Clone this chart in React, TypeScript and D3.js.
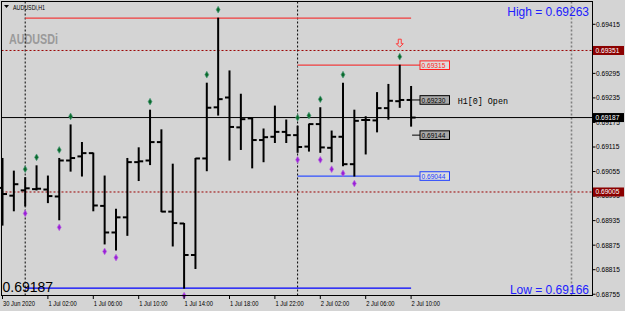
import React from "react";
import * as d3 from "d3";

// ---- data (AUDUSDi, H1) ----
const timeLabels = ["30 Jun 2020", "1 Jul 02:00", "1 Jul 06:00", "1 Jul 10:00", "1 Jul 14:00", "1 Jul 18:00", "1 Jul 22:00", "2 Jul 02:00", "2 Jul 06:00", "2 Jul 10:00"];
const opens = [0.69015, 0.68996, 0.69009, 0.69012, 0.69011, 0.68994, 0.69082, 0.69092, 0.69100, 0.68971, 0.68906, 0.68943, 0.69078, 0.69082, 0.69127, 0.68957, 0.68928, 0.68851, 0.69087, 0.69212, 0.69236, 0.69163, 0.69185, 0.69132, 0.69140, 0.69152, 0.69144, 0.69116, 0.69171, 0.69113, 0.69140, 0.69073, 0.69181, 0.69180, 0.69210, 0.69227, 0.69230];
const highs = [0.69087, 0.69056, 0.69040, 0.69069, 0.69044, 0.69087, 0.69169, 0.69126, 0.69100, 0.69044, 0.68963, 0.69087, 0.69113, 0.69205, 0.69157, 0.69073, 0.68928, 0.69087, 0.69271, 0.69430, 0.69301, 0.69244, 0.69185, 0.69159, 0.69215, 0.69181, 0.69166, 0.69171, 0.69211, 0.69154, 0.69271, 0.69205, 0.69189, 0.69248, 0.69268, 0.69315, 0.69263];
const lows = [0.68924, 0.68959, 0.68971, 0.69010, 0.68979, 0.68937, 0.69056, 0.69044, 0.68959, 0.68878, 0.68863, 0.68899, 0.69033, 0.69072, 0.68957, 0.68873, 0.68770, 0.68818, 0.69057, 0.69193, 0.69083, 0.69109, 0.69064, 0.69079, 0.69126, 0.69126, 0.69102, 0.69105, 0.69102, 0.69079, 0.69069, 0.69044, 0.69098, 0.69152, 0.69183, 0.69212, 0.69166];
const closes = [0.69000, 0.69024, 0.69014, 0.69013, 0.68995, 0.69082, 0.69088, 0.69100, 0.68972, 0.68906, 0.68943, 0.69078, 0.69080, 0.69127, 0.68957, 0.68929, 0.68851, 0.69087, 0.69211, 0.69232, 0.69164, 0.69183, 0.69132, 0.69139, 0.69152, 0.69144, 0.69115, 0.69171, 0.69114, 0.69140, 0.69073, 0.69179, 0.69181, 0.69210, 0.69228, 0.69230, 0.69187];
const upFractals = [2, 3, 5, 6, 13, 18, 19, 26, 27, 28, 30, 35];
const downFractals = [2, 5, 9, 10, 16, 26, 28, 29, 30, 31];
const priceTicks = [0.68755, 0.68815, 0.68875, 0.68935, 0.68995, 0.69055, 0.69115, 0.69175, 0.69235, 0.69295, 0.69355, 0.69415];
const separatorBars = [2, 26];
const prevDayHigh = 0.6943;
const prevDayLow = 0.6877;
const todayHigh = 0.69315;
const todayLow = 0.69044;
const dayOpen = 0.69144;
const levelUpper = 0.69351;
const levelLower = 0.69005;
const bid = 0.69187;
const symbolName = "AUDUSDi";
const periodName = "H1";

export default function App() {
  const W = 625, H = 311;
  const left = 1.5, right = 592.5, top = 1.5, bottom = 295.5;
  const x = d3.scaleLinear().domain([0, 36]).range([2.5, 411.1]);
  const y = d3.scaleLinear().domain([0.69415, 0.68755]).range([24.3, 294.24]);
  const n = opens.length;
  const last = n - 1;
  const font = "'Liberation Sans', Arial, sans-serif";
  const fmt = (v: number) => v.toFixed(5);
  const bars = d3.range(n);

  const diamond = d3.symbol().type(d3.symbolDiamond).size(13);
  const boxedLevels = [levelUpper, levelLower, bid];
  // tick labels fully covered by an axis box are not drawn
  const hidden = (v: number) => boxedLevels.some((b) => Math.abs(y(b) - y(v)) < 2.5);

  const lastX = x(last);
  const boxX = 420;

  const box = (v: number, stroke: string, fill: string, color: string, key: string) => (
    <g key={key}>
      <rect x={boxX} y={y(v) - 4.3} width={29.5} height={8.6} fill={fill} stroke={stroke} strokeWidth={1} />
      <text x={boxX + 1.5} y={y(v) + 2.6} fontSize={6.6} fontFamily={font} fill={color}>{fmt(v)}</text>
    </g>
  );

  const axisBox = (v: number, fill: string, key: string) => (
    <g key={key}>
      <rect x={593} y={y(v) - 4.5} width={31} height={9} fill={fill} />
      <text x={595.5} y={y(v) + 2.5} fontSize={6.6} fontFamily={font} fill="#ffffff">{fmt(v)}</text>
    </g>
  );

  return (
    <svg width={W} height={H} style={{ position: "fixed", left: 0, top: 0 }} xmlns="http://www.w3.org/2000/svg">
      <rect x={0} y={0} width={W} height={H} fill="#d4d4d4" />

      {/* watermark */}
      <text x={9} y={43.5} fontSize={15} fontWeight="bold" fontFamily={font} fill="#9a9a9a" textLength={49} lengthAdjust="spacingAndGlyphs">{symbolName}</text>

      {/* period separators */}
      {separatorBars.map((b) => (
        <line key={"sep" + b} x1={x(b)} x2={x(b)} y1={top} y2={bottom} stroke="#000" strokeWidth={1} strokeDasharray="2,2" />
      ))}
      {/* grey vertical */}
      <line x1={571.5} x2={571.5} y1={top} y2={bottom} stroke="#808080" strokeWidth={1.6} strokeDasharray="2,2" />

      {/* dotted levels */}
      {[levelUpper, levelLower].map((v) => (
        <line key={"lv" + v} x1={left} x2={right} y1={y(v)} y2={y(v)} stroke="#9b0000" strokeWidth={1} strokeDasharray="2,2" />
      ))}

      {/* previous day high / low */}
      <line x1={x(2)} x2={lastX} y1={y(prevDayHigh)} y2={y(prevDayHigh)} stroke="#f03c3c" strokeWidth={1.2} />
      <line x1={x(2)} x2={lastX} y1={y(prevDayLow)} y2={y(prevDayLow)} stroke="#0000ff" strokeWidth={1.2} />

      {/* today high / low */}
      <line x1={x(26)} x2={boxX} y1={y(todayHigh) + 1} y2={y(todayHigh) + 1} stroke="#bfe3e8" strokeWidth={1} />
      <line x1={x(26)} x2={boxX} y1={y(todayHigh)} y2={y(todayHigh)} stroke="#f03c3c" strokeWidth={1.2} />
      <line x1={x(26)} x2={boxX} y1={y(todayLow)} y2={y(todayLow)} stroke="#3050ff" strokeWidth={1.2} />

      {/* bid line */}
      <line x1={left} x2={right} y1={y(bid)} y2={y(bid)} stroke="#000" strokeWidth={1} />

      {/* bars */}
      {bars.map((i) => {
        const cx = x(i);
        return (
          <g key={"b" + i} stroke="#000" strokeWidth={2}>
            <line x1={cx} x2={cx} y1={y(highs[i]) - 0.5} y2={y(lows[i]) + 0.5} />
            <line x1={cx - 4.5} x2={cx} y1={y(opens[i])} y2={y(opens[i])} />
            <line x1={cx} x2={cx + 4.5} y1={y(closes[i])} y2={y(closes[i])} />
          </g>
        );
      })}

      {/* fractal markers */}
      {upFractals.map((i) => (
        <path key={"u" + i} d={diamond() as string} transform={`translate(${x(i)},${y(highs[i]) - 8.5})`} fill="#0a6a2a" stroke="#4a9a7a" strokeWidth={0.7} />
      ))}
      {downFractals.map((i) => (
        <path key={"d" + i} d={diamond() as string} transform={`translate(${x(i)},${y(lows[i]) + 7.5})`} fill="#9a1fd6" stroke="#b86ae0" strokeWidth={0.7} />
      ))}

      {/* red arrow above the highest bar of today */}
      <path
        d={`M${x(35) - 1.5},${y(todayHigh) - 26} h3 v4.5 h2 l-3.5,3.5 l-3.5,-3.5 h2 z`}
        fill="none" stroke="#ff3b3b" strokeWidth={1}
      />

      {/* current bar open / day open connectors + boxes */}
      <line x1={lastX} x2={boxX} y1={y(opens[last])} y2={y(opens[last])} stroke="#000" strokeWidth={1} />
      <line x1={lastX + 1} x2={boxX} y1={y(dayOpen)} y2={y(dayOpen)} stroke="#000" strokeWidth={1} />
      {box(todayHigh, "#ff2020", "#dcdcdc", "#ff2020", "bh")}
      {box(opens[last], "#000", "#a8a8a8", "#000", "bo")}
      {box(dayOpen, "#000", "#a8a8a8", "#000", "bd")}
      {box(todayLow, "#2040ff", "#dcdcdc", "#2040ff", "bl")}
      <text x={457.7} y={103.8} fontSize={8.4} fontFamily="'Liberation Mono', 'Courier New', monospace" fill="#000">{`${periodName}[0] Open`}</text>

      {/* high / low text */}
      <text x={589} y={15.5} textAnchor="end" fontSize={12} fontFamily={font} fill="#2020ff">{`High = ${fmt(highs[last])}`}</text>
      <text x={589} y={294} textAnchor="end" fontSize={12} fontFamily={font} fill="#2020ff">{`Low = ${fmt(lows[last])}`}</text>
      <text x={2.5} y={292} fontSize={14} fontFamily={font} fill="#000">{fmt(bid)}</text>

      {/* frame */}
      <rect x={left} y={top} width={right - left} height={bottom - top} fill="none" stroke="#000" strokeWidth={1} />

      {/* header */}
      <path d="M4,5 h5 l-2.5,3 z" fill="#000" />
      <text x={13} y={10} fontSize={8} fontFamily={font} fill="#000" textLength={32} lengthAdjust="spacingAndGlyphs">{`${symbolName},${periodName}`}</text>

      {/* price axis */}
      {priceTicks.map((v) => (
        <g key={"pt" + v}>
          <line x1={right} x2={right + 3} y1={y(v)} y2={y(v)} stroke="#000" strokeWidth={1} />
          {!hidden(v) && <text x={596} y={y(v) + 2.4} fontSize={6.6} fontFamily={font} fill="#000">{fmt(v)}</text>}
        </g>
      ))}
      {axisBox(levelUpper, "#8b0000", "ax1")}
      {axisBox(levelLower, "#8b0000", "ax2")}
      {axisBox(bid, "#000000", "ax3")}

      {/* time axis */}
      {timeLabels.map((t, k) => {
        const tx = x(k * 4);
        return (
          <g key={"tt" + k}>
            <line x1={tx} x2={tx} y1={bottom} y2={bottom + 3.5} stroke="#000" strokeWidth={1} />
            <text transform={`translate(${tx + 0.5},${305.5}) scale(0.83,1)`} fontSize={7} fontFamily={font} fill="#000">{t}</text>
          </g>
        );
      })}
    </svg>
  );
}
